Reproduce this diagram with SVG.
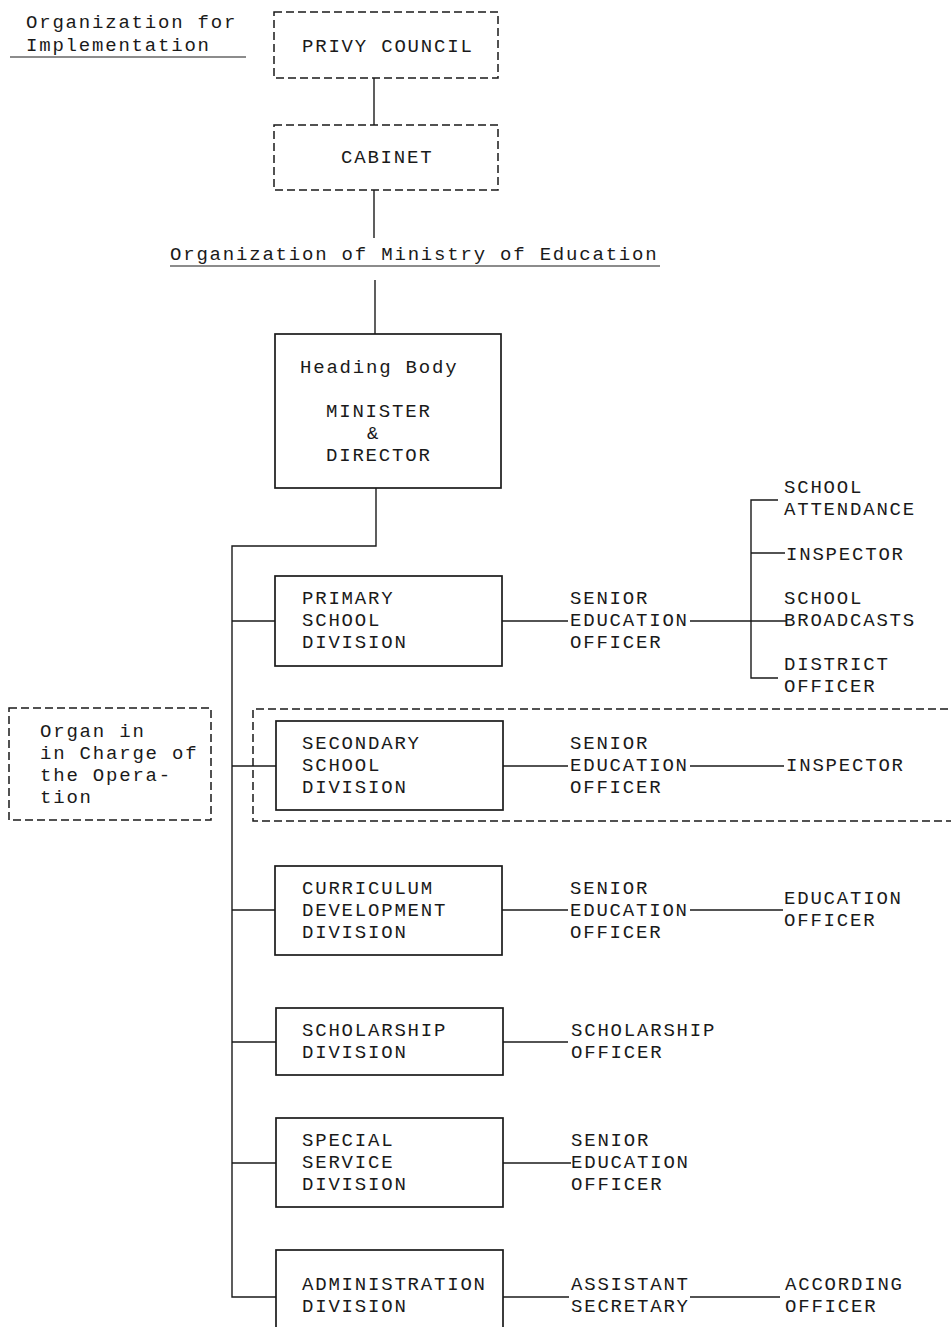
<svg xmlns="http://www.w3.org/2000/svg" width="951" height="1327" viewBox="0 0 951 1327">
<style>
text{font-family:"Liberation Mono","Courier New",monospace;font-size:19px;letter-spacing:1.8px;fill:#1a1a1a}
.box{fill:none;stroke:#1a1a1a;stroke-width:1.7}
.dash{fill:none;stroke:#1a1a1a;stroke-width:1.5;stroke-dasharray:8 4}
.ln{fill:none;stroke:#1a1a1a;stroke-width:1.4}
.ul{stroke:#1a1a1a;stroke-width:1.2}
</style>
<rect width="951" height="1327" fill="#fff"/>
<g id="title-impl">
<text x="26" y="28">Organization for</text>
<text x="26" y="51">Implementation</text>
<line class="ul" x1="10" y1="57" x2="246" y2="57"/>
</g>
<g id="privy-council">
<rect class="dash" x="274" y="12" width="224" height="66"/>
<text x="302" y="52">PRIVY COUNCIL</text>
</g>
<g id="cabinet">
<rect class="dash" x="274" y="125" width="224" height="65"/>
<text x="341" y="163">CABINET</text>
</g>
<g id="title-ministry">
<text x="170" y="260">Organization of Ministry of Education</text>
<line class="ul" x1="170" y1="266" x2="660" y2="266"/>
</g>
<g id="heading-body">
<rect class="box" x="275" y="334" width="226" height="154"/>
<text x="300" y="373">Heading Body</text>
<text x="326" y="417">MINISTER</text>
<text x="367" y="439" font-size="15">&amp;</text>
<text x="326" y="461">DIRECTOR</text>
</g>
<g id="organ">
<rect class="dash" x="9" y="708" width="202" height="112"/>
<text x="40" y="737">Organ in</text>
<text x="40" y="759">in Charge of</text>
<text x="40" y="781">the Opera-</text>
<text x="40" y="803">tion</text>
</g>
<g id="secondary-group">
<path class="dash" d="M960 709 H253 V821 H960"/>
</g>
<g id="primary">
<rect class="box" x="275" y="576" width="227" height="90"/>
<text x="302" y="604">PRIMARY</text>
<text x="302" y="626">SCHOOL</text>
<text x="302" y="648">DIVISION</text>
</g>
<g id="primary-seo">
<text x="570" y="604">SENIOR</text>
<text x="570" y="626">EDUCATION</text>
<text x="570" y="648">OFFICER</text>
</g>
<g id="school-attendance">
<text x="784" y="493">SCHOOL</text>
<text x="784" y="515">ATTENDANCE</text>
</g>
<g id="inspector-1">
<text x="786" y="560">INSPECTOR</text>
</g>
<g id="school-broadcasts">
<text x="784" y="604">SCHOOL</text>
<text x="784" y="626">BROADCASTS</text>
</g>
<g id="district-officer">
<text x="784" y="670">DISTRICT</text>
<text x="784" y="692">OFFICER</text>
</g>
<g id="secondary">
<rect class="box" x="276" y="721" width="227" height="89"/>
<text x="302" y="749">SECONDARY</text>
<text x="302" y="771">SCHOOL</text>
<text x="302" y="793">DIVISION</text>
</g>
<g id="secondary-seo">
<text x="570" y="749">SENIOR</text>
<text x="570" y="771">EDUCATION</text>
<text x="570" y="793">OFFICER</text>
</g>
<g id="inspector-2">
<text x="786" y="771">INSPECTOR</text>
</g>
<g id="curriculum">
<rect class="box" x="275" y="866" width="227" height="89"/>
<text x="302" y="894">CURRICULUM</text>
<text x="302" y="916">DEVELOPMENT</text>
<text x="302" y="938">DIVISION</text>
</g>
<g id="curriculum-seo">
<text x="570" y="894">SENIOR</text>
<text x="570" y="916">EDUCATION</text>
<text x="570" y="938">OFFICER</text>
</g>
<g id="education-officer">
<text x="784" y="904">EDUCATION</text>
<text x="784" y="926">OFFICER</text>
</g>
<g id="scholarship">
<rect class="box" x="276" y="1008" width="227" height="67"/>
<text x="302" y="1036">SCHOLARSHIP</text>
<text x="302" y="1058">DIVISION</text>
</g>
<g id="scholarship-officer">
<text x="571" y="1036">SCHOLARSHIP</text>
<text x="571" y="1058">OFFICER</text>
</g>
<g id="special">
<rect class="box" x="276" y="1118" width="227" height="89"/>
<text x="302" y="1146">SPECIAL</text>
<text x="302" y="1168">SERVICE</text>
<text x="302" y="1190">DIVISION</text>
</g>
<g id="special-seo">
<text x="571" y="1146">SENIOR</text>
<text x="571" y="1168">EDUCATION</text>
<text x="571" y="1190">OFFICER</text>
</g>
<g id="administration">
<rect class="box" x="276" y="1250" width="227" height="90"/>
<text x="302" y="1290">ADMINISTRATION</text>
<text x="302" y="1312">DIVISION</text>
</g>
<g id="assistant-secretary">
<text x="571" y="1290">ASSISTANT</text>
<text x="571" y="1312">SECRETARY</text>
</g>
<g id="according-officer">
<text x="785" y="1290">ACCORDING</text>
<text x="785" y="1312">OFFICER</text>
</g>
<g id="connectors">
<path class="ln" d="M374 78 V125"/>
<path class="ln" d="M374 190 V238"/>
<path class="ln" d="M375 280 V334"/>
<path class="ln" d="M376 488 V546 H232 V1297 H276"/>
<path class="ln" d="M232 621 H275"/>
<path class="ln" d="M232 766 H276"/>
<path class="ln" d="M232 910 H275"/>
<path class="ln" d="M232 1042 H276"/>
<path class="ln" d="M232 1163 H276"/>
<path class="ln" d="M502 621 H568"/>
<path class="ln" d="M690 621 H786"/>
<path class="ln" d="M778 500 H751 V678 H778" stroke-width="2"/>
<path class="ln" d="M751 553 H785"/>
<path class="ln" d="M503 766 H568"/>
<path class="ln" d="M690 766 H784"/>
<path class="ln" d="M502 910 H568"/>
<path class="ln" d="M690 910 H783"/>
<path class="ln" d="M503 1042 H568"/>
<path class="ln" d="M503 1163 H571"/>
<path class="ln" d="M503 1297 H569"/>
<path class="ln" d="M690 1297 H780"/>
</g>
</svg>
